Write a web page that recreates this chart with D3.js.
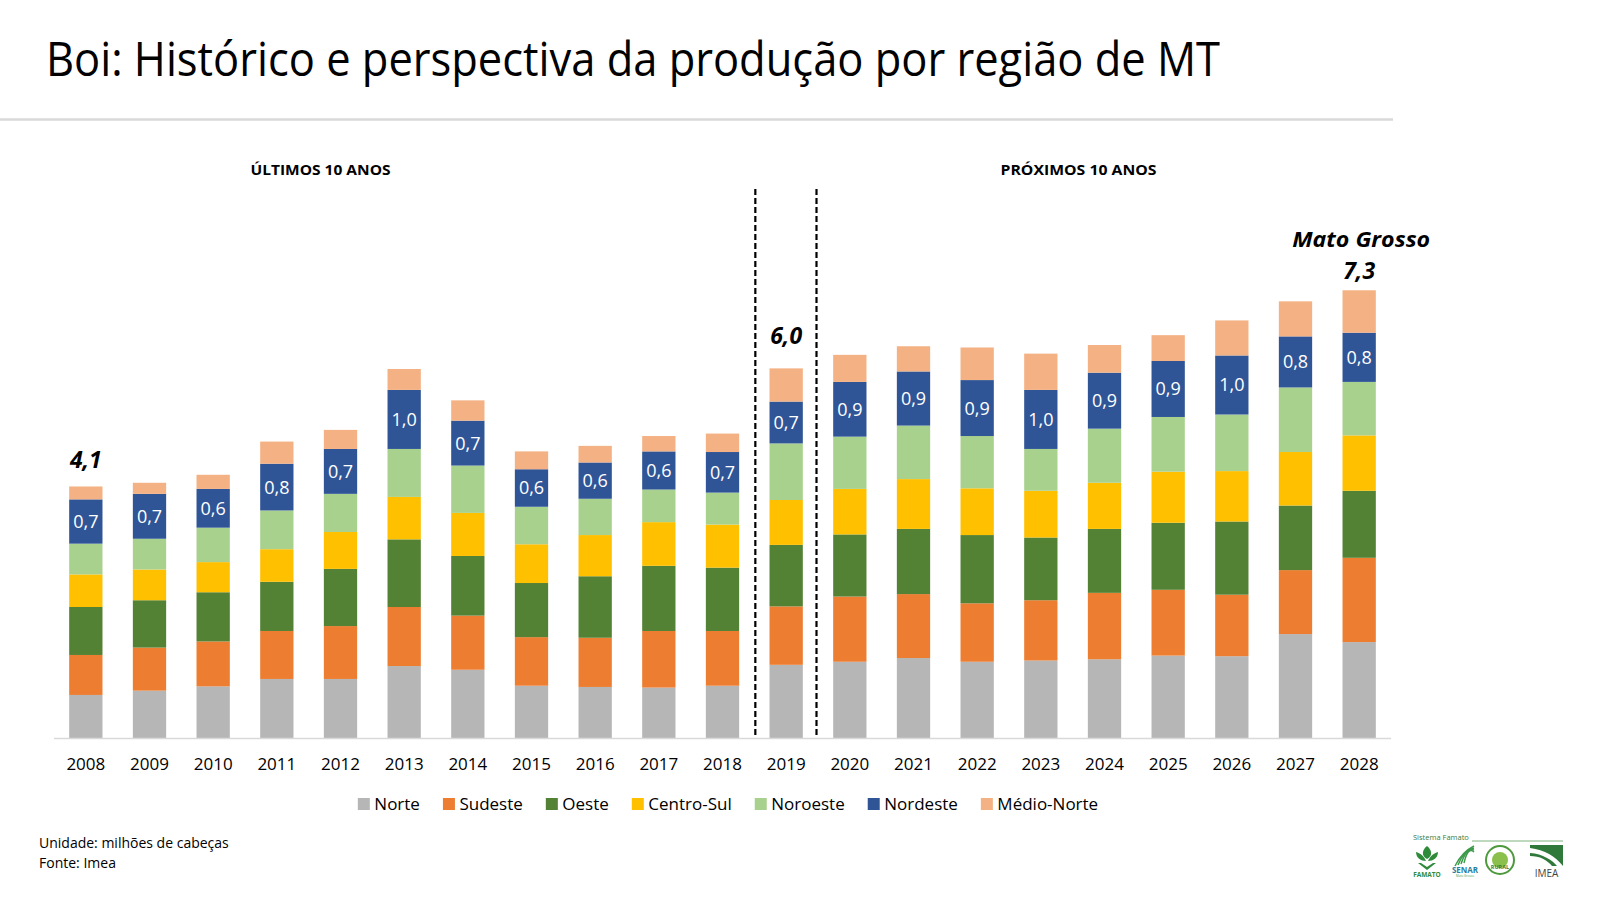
<!DOCTYPE html>
<html>
<head>
<meta charset="utf-8">
<script src="https://cdn.jsdelivr.net/npm/d3@7"></script>
<style>
  html, body { margin: 0; padding: 0; background: #fff; }
  svg { display: block; font-family: "Open Sans", "Noto Sans", sans-serif; }
</style>
</head>
<body>
<svg id="chart" width="1600" height="900"></svg>
<script>
// ---------- DATA (milhões de cabeças) ----------
const years = ["2008","2009","2010","2011","2012","2013","2014","2015","2016","2017","2018",
               "2019","2020","2021","2022","2023","2024","2025","2026","2027","2028"];
const seriesNames = ["Norte","Sudeste","Oeste","Centro-Sul","Noroeste","Nordeste","Médio-Norte"];
const norte      = [0.70,0.77,0.84,0.96,0.96,1.17,1.11,0.85,0.83,0.82,0.85,1.19,1.24,1.30,1.24,1.26,1.28,1.34,1.33,1.69,1.56];
const sudeste    = [0.65,0.70,0.73,0.78,0.86,0.96,0.88,0.79,0.80,0.92,0.89,0.95,1.06,1.04,0.95,0.98,1.08,1.07,1.00,1.04,1.37];
const oeste      = [0.78,0.77,0.80,0.80,0.93,1.10,0.97,0.88,1.00,1.06,1.03,1.00,1.01,1.06,1.11,1.02,1.04,1.09,1.19,1.05,1.09];
const centroSul  = [0.53,0.50,0.49,0.53,0.60,0.69,0.70,0.63,0.67,0.71,0.70,0.73,0.74,0.81,0.76,0.76,0.75,0.83,0.82,0.87,0.90];
const noroeste   = [0.50,0.50,0.56,0.63,0.62,0.78,0.77,0.61,0.59,0.53,0.52,0.92,0.85,0.87,0.85,0.68,0.88,0.89,0.92,1.05,0.87];
const nordeste   = [0.72,0.73,0.63,0.76,0.73,0.96,0.73,0.61,0.59,0.62,0.66,0.68,0.89,0.88,0.91,0.96,0.91,0.91,0.96,0.83,0.80];
const medioNorte = [0.21,0.18,0.23,0.36,0.31,0.34,0.33,0.29,0.27,0.25,0.30,0.54,0.44,0.41,0.53,0.59,0.45,0.42,0.57,0.57,0.69];
const totalLabelYears = ["2008","2019","2028"];
const sectionLabels = ["ÚLTIMOS 10 ANOS","PRÓXIMOS 10 ANOS"];
const colors = ["#B6B6B6","#ED7D31","#548235","#FFC000","#A9D18E","#2F5597","#F4B183"];

const seriesValues = [norte, sudeste, oeste, centroSul, noroeste, nordeste, medioNorte];
const table = years.map((yr, i) => {
  const row = { year: yr };
  seriesNames.forEach((s, k) => row[s] = seriesValues[k][i]);
  return row;
});

// ---------- SETUP ----------
const svg = d3.select("#chart");
svg.append("rect").attr("width", 1600).attr("height", 900).attr("fill", "#fff");

const x = d3.scaleBand().domain(years).range([54, 1391]).paddingInner(0.477).paddingOuter(0.2385);
const y = d3.scaleLinear().domain([0, 8]).range([738, 246]);
const color = d3.scaleOrdinal().domain(seriesNames).range(colors);
const fmt = v => d3.format(".1f")(v).replace(".", ",");
const cx = yr => x(yr) + x.bandwidth() / 2;

// Title
svg.append("text")
  .attr("x", 46).attr("y", 76)
  .attr("font-size", 48).attr("fill", "#000")
  .attr("textLength", 1174).attr("lengthAdjust", "spacingAndGlyphs")
  .text("Boi: Histórico e perspectiva da produção por região de MT");
svg.append("line").attr("x1", 0).attr("x2", 1393).attr("y1", 119.5).attr("y2", 119.5)
  .attr("stroke", "#D9D9D9").attr("stroke-width", 2.5);

// Section labels
svg.append("text").attr("x", cx("2012") - 20).attr("y", 175)
  .attr("text-anchor", "middle").attr("font-size", 15).attr("font-weight", 700)
  .attr("textLength", 140).attr("lengthAdjust", "spacingAndGlyphs")
  .text(sectionLabels[0]);
svg.append("text").attr("x", cx("2024") - 26).attr("y", 175)
  .attr("text-anchor", "middle").attr("font-size", 15).attr("font-weight", 700)
  .attr("textLength", 156).attr("lengthAdjust", "spacingAndGlyphs")
  .text(sectionLabels[1]);

// Stacked bars
const stack = d3.stack().keys(seriesNames);
const stacked = stack(table);
const gBars = svg.append("g");
stacked.forEach(layer => {
  gBars.append("g").attr("fill", color(layer.key))
    .selectAll("rect").data(layer).join("rect")
    .attr("x", d => x(d.data.year))
    .attr("width", x.bandwidth())
    .attr("y", d => y(d[1]))
    .attr("height", d => y(d[0]) - y(d[1]));
});

// Nordeste labels
const nordLayer = stacked.find(l => l.key === "Nordeste");
svg.append("g").selectAll("text").data(nordLayer).join("text")
  .attr("x", d => cx(d.data.year))
  .attr("y", d => (y(d[0]) + y(d[1])) / 2)
  .attr("dy", "0.36em")
  .attr("text-anchor", "middle").attr("font-size", 18).attr("fill", "#fff")
  .text(d => fmt(d.data["Nordeste"]));

// Axis baseline
svg.append("line").attr("x1", 54).attr("x2", 1391).attr("y1", y(0) + 0.5).attr("y2", y(0) + 0.5)
  .attr("stroke", "#D9D9D9").attr("stroke-width", 1.5);

// X axis labels
const xAxis = d3.axisBottom(x).tickSize(0).tickPadding(0);
const gx = svg.append("g").attr("transform", `translate(0, ${y(0) + 20})`).call(xAxis);
gx.select(".domain").remove();
gx.selectAll("text").attr("font-size", 17).attr("fill", "#000")
  .attr("font-family", "'Open Sans', sans-serif").attr("dy", "0.71em");

// Dashed separators around 2019
const step = x.step();
const sepX = [x("2019") - (step - x.bandwidth()) / 2 + 1, x("2019") + x.bandwidth() + (step - x.bandwidth()) / 2 - 1.5];
sepX.forEach(sx => {
  svg.append("line").attr("x1", sx).attr("x2", sx).attr("y1", 189).attr("y2", y(0))
    .attr("stroke", "#000").attr("stroke-width", 2.2).attr("stroke-dasharray", "6,3");
});

// Total labels
const totals = {};
table.forEach(r => totals[r.year] = d3.sum(seriesNames, s => r[s]));
const totalOffset = { "2008": 18, "2019": 24, "2028": 11 };
totalLabelYears.forEach(yr => {
  svg.append("text")
    .attr("x", cx(yr))
    .attr("y", y(totals[yr]) - totalOffset[yr])
    .attr("text-anchor", "middle").attr("font-size", 23).attr("font-weight", 700)
    .attr("font-style", "italic").attr("fill", "#000")
    .text(fmt(totals[yr]));
});
svg.append("text")
  .attr("x", cx("2028") + 2)
  .attr("y", y(totals["2028"]) - 43)
  .attr("text-anchor", "middle").attr("font-size", 22).attr("font-weight", 700)
  .attr("font-style", "italic").attr("fill", "#000")
  .attr("textLength", 138).attr("lengthAdjust", "spacingAndGlyphs")
  .text("Mato Grosso");

// Legend
const legend = svg.append("g");
let lx = 0;
seriesNames.forEach((s, i) => {
  const g = legend.append("g");
  g.append("rect").attr("x", 0).attr("y", -6).attr("width", 12).attr("height", 12).attr("fill", colors[i]);
  const t = g.append("text").attr("x", 16.5).attr("y", 0).attr("dy", "0.35em")
    .attr("font-size", 17).attr("fill", "#000").text(s);
  const w = t.node().getComputedTextLength();
  g.attr("transform", `translate(${lx},0)`);
  lx += 16.5 + w + 23;
});
const legendW = lx - 23;
legend.attr("transform", `translate(${728 - legendW / 2}, 804)`);

// Footer
svg.append("text").attr("x", 39).attr("y", 848).attr("font-size", 14).attr("fill", "#000")
  .text("Unidade: milhões de cabeças");
svg.append("text").attr("x", 39).attr("y", 868).attr("font-size", 14).attr("fill", "#000")
  .text("Fonte: Imea");

// Logos (simplified)
const logo = svg.append("g");
const lg = "#2E8B3A";
logo.append("text").attr("x", 1413).attr("y", 840).attr("font-size", 7.5).attr("fill", "#3a7d3a")
  .text("Sistema Famato");
logo.append("line").attr("x1", 1472).attr("x2", 1563).attr("y1", 841).attr("y2", 841)
  .attr("stroke", "#5aa05a").attr("stroke-width", 0.8);
// FAMATO
logo.append("path").attr("d", "M1427,846 C1422,850 1421,856 1427,859 C1433,856 1432,850 1427,846 Z").attr("fill", lg);
logo.append("path").attr("d", "M1416,852 C1416,858 1421,861 1426,861 C1424,856 1420,853 1416,852 Z").attr("fill", lg);
logo.append("path").attr("d", "M1438,852 C1438,858 1433,861 1428,861 C1430,856 1434,853 1438,852 Z").attr("fill", lg);
logo.append("path").attr("d", "M1418,863 L1427,870 L1436,863 L1433,863 L1427,867 L1421,863 Z").attr("fill", lg);
logo.append("text").attr("x", 1427).attr("y", 877).attr("text-anchor", "middle").attr("font-size", 6.5)
  .attr("font-weight", 700).attr("fill", lg).text("FAMATO");
// SENAR
[0, 1, 2, 3].forEach(k => {
  logo.append("path").attr("d", `M${1455 + k * 3},${866 - k} Q${1462 + k * 2},${852 - k * 2} ${1474},${846 + k * 2}`)
    .attr("fill", "none").attr("stroke", "#3c9a4a").attr("stroke-width", 1.4);
});
logo.append("text").attr("x", 1465).attr("y", 873).attr("text-anchor", "middle").attr("font-size", 8)
  .attr("font-weight", 700).attr("fill", "#2a7fa0").text("SENAR");
logo.append("text").attr("x", 1465).attr("y", 877).attr("text-anchor", "middle").attr("font-size", 3)
  .attr("fill", "#3c9a4a").text("Mato Grosso");
// Sindicatos Rurais
logo.append("circle").attr("cx", 1500).attr("cy", 860).attr("r", 14).attr("fill", "#fff")
  .attr("stroke", "#4c9a3c").attr("stroke-width", 2);
logo.append("circle").attr("cx", 1500).attr("cy", 860).attr("r", 8).attr("fill", "#8cc04c");
logo.append("text").attr("x", 1500).attr("y", 869).attr("text-anchor", "middle").attr("font-size", 5.5)
  .attr("font-weight", 700).attr("fill", "#3c7a2c").text("RURAL");
// IMEA
logo.append("path").attr("d", "M1530,845 L1563,845 L1563,866 C1555,856 1545,850 1530,848 Z").attr("fill", "#2f7a3a");
logo.append("path").attr("d", "M1530,853 C1543,854 1552,860 1557,866 L1552,866 C1547,860 1540,856 1530,856 Z").attr("fill", "#2f7a3a");
logo.append("text").attr("x", 1546.5).attr("y", 877).attr("text-anchor", "middle").attr("font-size", 10)
  .attr("fill", "#444").text("IMEA");
</script>
</body>
</html>
